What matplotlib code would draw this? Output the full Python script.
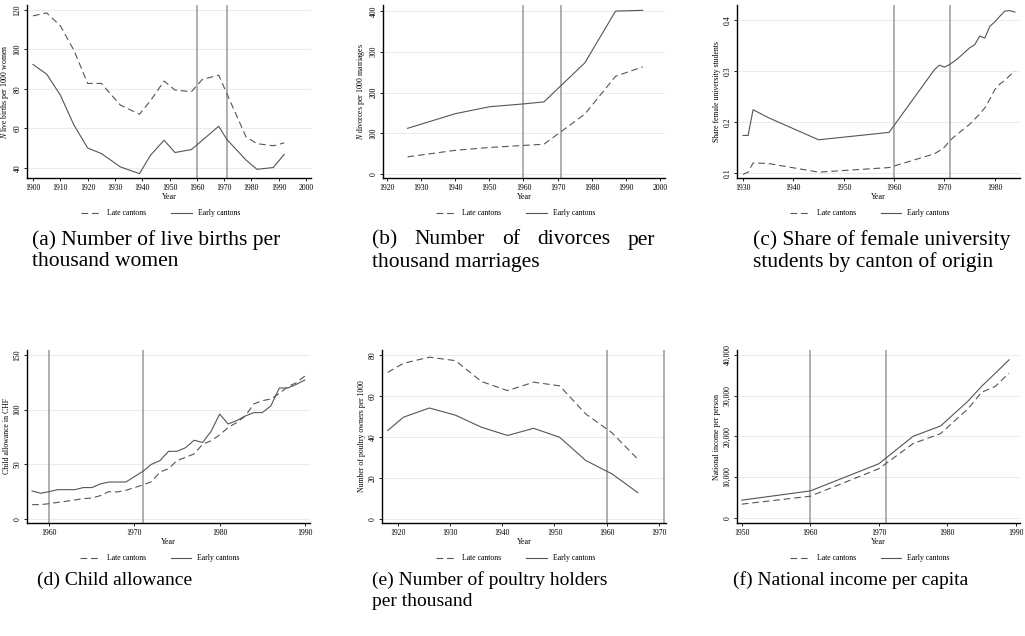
import matplotlib
matplotlib.use("Agg")
import matplotlib.pyplot as plt
from matplotlib.ticker import FuncFormatter

plt.rcParams['font.family'] = ['Liberation Serif', 'DejaVu Serif']
plt.rcParams['mathtext.fontset'] = 'custom'
plt.rcParams['mathtext.rm'] = 'Liberation Serif'
plt.rcParams['mathtext.it'] = 'Liberation Serif:italic'

# ---------------- data ----------------
a_years = [1900, 1905, 1910, 1915, 1920, 1925, 1932, 1939, 1943, 1948, 1952, 1958, 1962, 1968, 1971, 1978, 1982, 1988, 1992]
a_late = [117, 118.5, 112, 99.5, 82.8, 82.8, 71.8, 67.2, 74, 84, 79.4, 78.6, 84.8, 87, 77.6, 55.7, 52.3, 51.2, 52.7]
a_early = [92.4, 87.5, 76.9, 61.7, 50.1, 47.3, 40.5, 37.1, 46.4, 54, 47.8, 49.3, 54, 61.1, 54.4, 44, 39.3, 40.2, 46.9]

b_years = [1926, 1940, 1950, 1960, 1966, 1978, 1987, 1995]
b_late = [42, 58, 65, 70, 73, 147, 240, 263]
b_early = [112, 148, 165, 172, 177, 273, 400, 402]

c_years = [1930, 1931, 1932, 1935, 1945, 1959, 1968, 1969, 1970, 1971, 1972, 1973, 1974, 1975,
           1976, 1977, 1978, 1979, 1980, 1981, 1982, 1983, 1984]
c_late = [0.0975, 0.102, 0.12, 0.119, 0.102, 0.111, 0.138, 0.144, 0.151, 0.163, 0.172, 0.18, 0.188, 0.196,
          0.206, 0.216, 0.228, 0.245, 0.264, 0.275, 0.282, 0.292, 0.3]
c_early = [0.174, 0.174, 0.2245, 0.209, 0.1655, 0.18, 0.303, 0.312, 0.308, 0.313, 0.32, 0.328, 0.337, 0.346,
           0.352, 0.369, 0.365, 0.388, 0.397, 0.408, 0.418, 0.419, 0.416]

d_years = list(range(1958, 1991))
d_late = [13.1, 13.1, 14, 15.2, 16.2, 17.4, 18.6, 19.2, 21.3, 25, 24.7, 26.2, 28.7, 31.1, 34.1, 43, 46,
          53.4, 56.4, 59.5, 68.3, 71.6, 76.8, 83.8, 88.1, 94.2, 105.2, 108.2, 109.8, 114.9, 121, 124.7, 130.8]
d_early = [25.6, 23.5, 25, 26.8, 26.8, 26.8, 28.7, 28.7, 32, 33.8, 33.8, 33.8, 38.7, 43.6, 50, 53.4, 61.9,
           61.9, 65.2, 72, 70, 80.2, 96, 86.9, 90, 94.2, 97.3, 97.3, 103.4, 119.8, 119.8, 123.2, 127.1]

e_years = [1918, 1921, 1926, 1931, 1936, 1941, 1946, 1951, 1956, 1961, 1966]
e_late = [71.5, 75.9, 78.9, 77.2, 67, 62.6, 66.7, 64.9, 51.2, 42.1, 29.1]
e_early = [43.1, 49.6, 54.1, 50.6, 44.7, 40.7, 44.2, 39.8, 28.5, 22, 12.8]

f_years = [1950, 1960, 1970, 1975, 1979, 1983, 1985, 1987, 1989]
f_late = [3333, 5285, 12033, 18211, 20650, 26750, 30813, 32276, 35528]
f_early = [4309, 6585, 13252, 20000, 22520, 28618, 32276, 35500, 38780]

vlines_years = [1960, 1971]
legend_labels = ["Late cantons", "Early cantons"]

# ---------------- layout ----------------
W, H = 1025, 636
fig = plt.figure(figsize=(W / 100, H / 100), dpi=100)

LINE_C = '#555555'
VL_C = '#a9a9a9'
GRID_C = '#e4eef0'


def add_axes(left, right, top, bottom):
    return fig.add_axes([left / W, 1 - bottom / H, (right - left) / W, (bottom - top) / H])


panels = [
    dict(box=(27, 311, 5, 178), years=a_years, late=a_late, early=a_early,
         xlim=(1897.8, 2001.8), xticks=range(1900, 2001, 10), ylim=(34.9, 122.5), yticks=[40, 60, 80, 100, 120],
         ylabel="$N$ live births per 1000 women", fmt=None),
    dict(box=(383, 665, 5, 178), years=b_years, late=b_late, early=b_early,
         xlim=(1918.8, 2001.5), xticks=range(1920, 2001, 10), ylim=(-10, 415), yticks=[0, 100, 200, 300, 400],
         ylabel="$N$ divorces per 1000 marriages", fmt=None),
    dict(box=(737, 1020, 5, 178), years=c_years, late=c_late, early=c_early,
         xlim=(1928.8, 1985), xticks=range(1930, 1981, 10), ylim=(0.0905, 0.43), yticks=[0.1, 0.2, 0.3, 0.4],
         ylabel="Share female university students", fmt=lambda v, p: f"{v:.1f}"),
    dict(box=(27, 310, 350, 523), years=d_years, late=d_late, early=d_early,
         xlim=(1957.4, 1990.6), xticks=range(1960, 1991, 10), ylim=(-3.7, 154.6), yticks=[0, 50, 100, 150],
         ylabel="Child allowance in CHF", fmt=None),
    dict(box=(382, 666, 350, 523), years=e_years, late=e_late, early=e_early,
         xlim=(1916.9, 1971.4), xticks=range(1920, 1971, 10), ylim=(-2, 82.4), yticks=[0, 20, 40, 60, 80],
         ylabel="Number of poultry owners per 1000", fmt=None),
    dict(box=(737, 1020, 350, 523), years=f_years, late=f_late, early=f_early,
         xlim=(1949.3, 1990.6), xticks=range(1950, 1991, 10), ylim=(-1300, 41200),
         yticks=[0, 10000, 20000, 30000, 40000],
         ylabel="National income per person", fmt=lambda v, p: f"{int(v):,}"),
]

for p in panels:
    ax = add_axes(*p['box'])
    ax.set_xlim(*p['xlim'])
    ax.set_ylim(*p['ylim'])
    ax.set_yticks(p['yticks'])
    ax.set_xticks(list(p['xticks']))
    if p['fmt']:
        ax.yaxis.set_major_formatter(FuncFormatter(p['fmt']))
    for yt in p['yticks']:
        ax.axhline(yt, color=GRID_C, lw=0.8, zorder=0)
    for vx in vlines_years:
        ax.axvline(vx, color=VL_C, lw=1.3, zorder=1)
    l1, = ax.plot(p['years'], p['late'], color=LINE_C, lw=0.8, ls=(0, (6, 3.5)), zorder=3)
    l2, = ax.plot(p['years'], p['early'], color=LINE_C, lw=0.8, zorder=3)
    for s in ['top', 'right']:
        ax.spines[s].set_visible(False)
    for s in ['left', 'bottom']:
        ax.spines[s].set_linewidth(1.0)
        ax.spines[s].set_color('black')
    ax.tick_params(axis='both', labelsize=5.6, length=2.5, width=0.6, pad=1.5, direction='out')
    for lab in ax.get_yticklabels():
        lab.set_rotation(90)
        lab.set_va('center')
    ax.set_xlabel("Year", fontsize=5.8, labelpad=1)
    ax.set_ylabel(p['ylabel'], fontsize=5.6, labelpad=2)
    ax.legend([l1, l2], legend_labels, loc='center', bbox_to_anchor=(0.47, -0.205), ncol=2,
              frameon=False, fontsize=5.6, handlelength=2.6, columnspacing=3.2, handletextpad=0.8)

# ---------------- captions ----------------
renderer = fig.canvas.get_renderer()


def caption(text, x0, y, x1=None, fs=15.5):
    if x1 is None:
        fig.text(x0 / W, 1 - y / H, text, fontsize=fs, va='center', ha='left')
        return
    words = text.split()
    ts = [fig.text(0, 0, w, fontsize=fs, va='center', ha='left') for w in words]
    widths = [t.get_window_extent(renderer).width for t in ts]
    gap = (x1 - x0 - sum(widths)) / (len(words) - 1)
    x = x0
    for t, w in zip(ts, widths):
        t.set_position((x / W, 1 - y / H))
        x += w + gap


caption("(a) Number of live births per", 32, 240)
caption("thousand women", 32, 262)
caption("(b) Number of divorces per", 372, 240, 655)
caption("thousand marriages", 372, 262)
caption("(c) Share of female university", 753, 240)
caption("students by canton of origin", 753, 262)
caption("(d) Child allowance", 37, 580, fs=14)
caption("(e) Number of poultry holders", 372, 580, fs=14)
caption("per thousand", 372, 602, fs=14)
caption("(f) National income per capita", 733, 580, fs=14)

fig.savefig("out.png", dpi=100)
